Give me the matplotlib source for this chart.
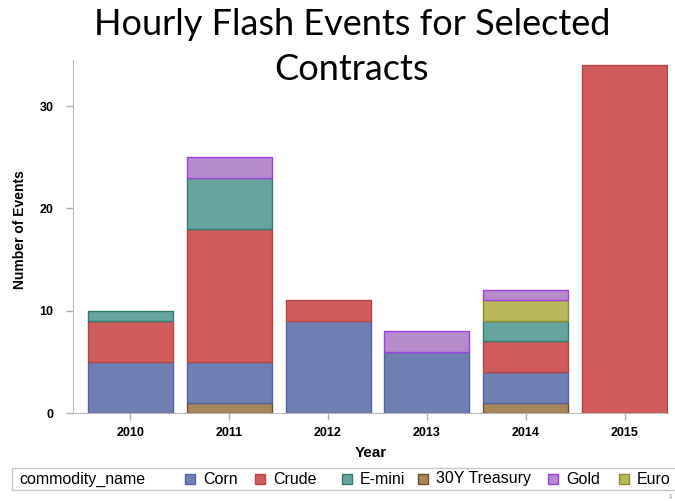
import numpy as np
import matplotlib
matplotlib.use('Agg')
import matplotlib.pyplot as plt
from matplotlib.patches import Rectangle

years = ['2010', '2011', '2012', '2013', '2014', '2015']

# stacked bottom -> top
series = ['30Y Treasury', 'Corn', 'Crude', 'E-mini', 'Euro', 'Gold']
treasury = [0, 1, 0, 0, 1, 0]
corn = [5, 4, 9, 6, 3, 0]
crude = [4, 13, 2, 0, 3, 34]
emini = [1, 5, 0, 0, 2, 0]
euro = [0, 0, 0, 0, 2, 0]
gold = [0, 2, 0, 2, 1, 0]

legend_order = ['Corn', 'Crude', 'E-mini', '30Y Treasury', 'Gold', 'Euro']

face = {'Corn': '#6f7eb3', 'Crude': '#d05b5b', 'E-mini': '#66a59f',
        '30Y Treasury': '#a9855a', 'Gold': '#b68acd', 'Euro': '#b9b95b'}
edge = {'Corn': '#5563a6', 'Crude': '#b54444', 'E-mini': '#2e7c70',
        '30Y Treasury': '#6e4e25', 'Gold': '#a23ee6', 'Euro': '#8d8d2a'}

values = {'30Y Treasury': treasury, 'Corn': corn, 'Crude': crude,
          'E-mini': emini, 'Euro': euro, 'Gold': gold}

fig = plt.figure(figsize=(6.75, 5.01), dpi=100)
ax = fig.add_axes([73/675, 1 - 413/501, 595/675, 353/501])

x = np.arange(len(years))
bottom = np.zeros(len(years))
for name in series:
    v = np.array(values[name], dtype=float)
    mask = v > 0
    ax.bar(x[mask], v[mask], width=0.86, bottom=bottom[mask],
           color=face[name], edgecolor=edge[name], linewidth=1.0)
    bottom += v

ax.set_xlim(-0.58, 5.44)
ax.set_ylim(0, 34.5)
ax.set_xticks(x)
ax.set_xticklabels(years, fontsize=9, fontweight='bold', family='Liberation Sans')
ax.set_yticks([0, 10, 20, 30])
ax.set_yticklabels(['0', '10', '20', '30'], fontsize=9, fontweight='bold',
                   family='Liberation Sans')
ax.tick_params(colors='#b0b0b0', labelcolor='black', length=5, width=1)
ax.tick_params(axis='y', pad=9)
ax.tick_params(axis='x', pad=5)
for s in ['top', 'right']:
    ax.spines[s].set_visible(False)
for s in ['left', 'bottom']:
    ax.spines[s].set_color('#b8b8b8')

ax.set_xlabel('Year', fontsize=11, fontweight='bold', family='Liberation Sans', labelpad=5)
ax.set_ylabel('Number of Events', fontsize=10, fontweight='bold', family='Liberation Sans')
ax.yaxis.set_label_coords(-46/595, 0.52)

fig.text(352/675, 1 - 47/501, 'Hourly Flash Events for Selected\nContracts',
         ha='center', va='center', fontsize=26, family='Lato', linespacing=1.45)

# legend strip
fig.patches.append(Rectangle((12/675, 1 - 490/501), 680/675, 22/501,
                             transform=fig.transFigure, fill=False,
                             edgecolor='#c8c8c8', linewidth=1))
ly = 1 - 479/501
fig.text(19/675, ly, 'commodity_name', fontsize=11.5, family='Liberation Sans',
         va='center', ha='left')
lx = [185, 255, 342, 418, 548, 619]
for px, name in zip(lx, legend_order):
    fig.patches.append(Rectangle((px/675, ly - 5/501), 10/675, 10/501,
                                 transform=fig.transFigure, facecolor=face[name],
                                 edgecolor=edge[name], linewidth=1))
    fig.text((px + 18)/675, ly, name, fontsize=11.5, family='Liberation Sans',
             va='center', ha='left')

fig.text(670/675, 1 - 496/501, '1', fontsize=4, color='#666666', ha='center', va='center')

fig.savefig('out.png', dpi=100)
